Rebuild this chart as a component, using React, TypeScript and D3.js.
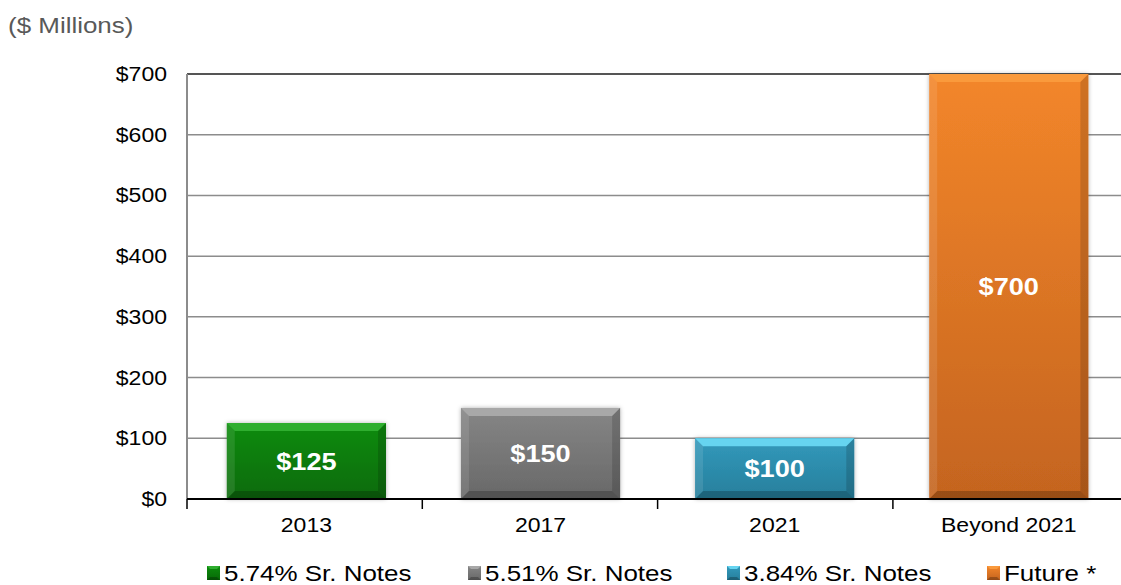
import * as React from 'react';
import * as d3 from 'd3';

const categories = ['2013', '2017', '2021', 'Beyond 2021'];
const values = [125, 150, 100, 700];
const seriesNames = ['5.74% Sr. Notes', '5.51% Sr. Notes', '3.84% Sr. Notes', 'Future *'];
const yTicks = [0, 100, 200, 300, 400, 500, 600, 700];

// top, middle, bottom shades for each bar
const palette = [
  ['#2fae2f', '#0d8c0d', '#076a07'],
  ['#a8a8a8', '#868686', '#686868'],
  ['#66d4f0', '#3299bb', '#277f9c'],
  ['#fa9a3c', '#f3862a', '#c4641f'],
];

const width = 1121;
const height = 585;
const sx = 1.18; // the original's text is a little wide
const font = 'Liberation Sans, Arial, sans-serif';

export default function App() {
  const root = React.useRef() as React.MutableRefObject<any>;

  React.useEffect(() => {
    document.body.style.margin = '0';

    const left = 187, top = 74, bottom = 499;
    const band = 235.3;

    const x = d3.scaleBand<string>()
      .domain(categories)
      .range([left, left + band * 4])
      .paddingInner(0.32)
      .paddingOuter(0.17);

    const y = d3.scaleLinear()
      .domain([0, 700])
      .range([bottom, top]);

    const svg = d3.select(root.current);
    svg.selectAll('*').remove();

    const defs = svg.append('defs');
    palette.forEach((p, i) => {
      const g = defs.append('linearGradient')
        .attr('id', 'g' + i)
        .attr('x1', 0).attr('y1', 0).attr('x2', 0).attr('y2', 1);
      g.append('stop').attr('offset', '0%').attr('stop-color', p[1]);
      g.append('stop').attr('offset', '100%').attr('stop-color', p[2]);
    });
    const f = defs.append('filter').attr('id', 'sh')
      .attr('x', '-10%').attr('y', '-10%').attr('width', '120%').attr('height', '120%');
    f.append('feDropShadow').attr('dx', 0).attr('dy', 0).attr('stdDeviation', 2)
      .attr('flood-color', '#000').attr('flood-opacity', 0.3);

    const label = (parent: any, tx: number, ty: number, txt: string, size: number, anchor: string) =>
      parent.append('text')
        .attr('transform', `translate(${tx},${ty}) scale(${sx},1)`)
        .attr('text-anchor', anchor)
        .attr('font-family', font)
        .attr('font-size', size)
        .text(txt);

    // title
    label(svg, 8, 33, '($ Millions)', 22, 'start').attr('fill', '#595959');

    // gridlines
    svg.append('g').selectAll('line')
      .data(yTicks.filter(d => d > 0))
      .enter().append('line')
      .attr('x1', left).attr('x2', width)
      .attr('y1', d => y(d)).attr('y2', d => y(d))
      .attr('stroke', d => d === 700 ? '#555' : '#8c8c8c')
      .attr('stroke-width', d => d === 700 ? 2 : 1.5);

    // left axis line
    svg.append('line')
      .attr('x1', left).attr('x2', left)
      .attr('y1', top).attr('y2', bottom)
      .attr('stroke', '#8c8c8c').attr('stroke-width', 2);

    // y tick labels
    const yl = svg.append('g');
    yTicks.forEach(d => {
      label(yl, 167, y(d) + 7, '$' + d, 19.5, 'end').attr('fill', '#000');
    });

    // bars with bevel
    const bev = 8;
    const bars = svg.append('g').selectAll('g')
      .data(values)
      .enter().append('g');

    bars.each(function (v, i) {
      const g = d3.select(this);
      const x0 = x(categories[i]) as number;
      const w = x.bandwidth();
      const y0 = y(v);
      const x1 = x0 + w, y1 = y(0);
      const pts = (a: number[][]) => a.map(p => p.join(',')).join(' ');
      g.append('rect')
        .attr('x', x0).attr('y', y0)
        .attr('width', w).attr('height', y1 - y0)
        .attr('fill', `url(#g${i})`)
        .attr('filter', 'url(#sh)');
      // top facet
      g.append('polygon')
        .attr('points', pts([[x0, y0], [x1, y0], [x1 - bev, y0 + bev], [x0 + bev, y0 + bev]]))
        .attr('fill', palette[i][0]);
      // left facet
      g.append('polygon')
        .attr('points', pts([[x0, y0], [x0 + bev, y0 + bev], [x0 + bev, y1 - bev], [x0, y1]]))
        .attr('fill', '#fff').attr('fill-opacity', 0.1);
      // right facet
      g.append('polygon')
        .attr('points', pts([[x1, y0], [x1, y1], [x1 - bev, y1 - bev], [x1 - bev, y0 + bev]]))
        .attr('fill', '#000').attr('fill-opacity', 0.15);
      // bottom facet
      g.append('polygon')
        .attr('points', pts([[x0, y1], [x1, y1], [x1 - bev, y1 - bev], [x0 + bev, y1 - bev]]))
        .attr('fill', '#000').attr('fill-opacity', 0.22);
      label(g, x0 + w / 2, (y0 + y1) / 2 + 8.5, '$' + v, 23, 'middle')
        .attr('font-weight', 'bold')
        .attr('fill', '#fff');
    });

    // x axis
    svg.append('line')
      .attr('x1', left).attr('x2', width)
      .attr('y1', bottom).attr('y2', bottom)
      .attr('stroke', '#000').attr('stroke-width', 2);
    svg.append('g').selectAll('line')
      .data(d3.range(4))
      .enter().append('line')
      .attr('x1', i => left + band * i).attr('x2', i => left + band * i)
      .attr('y1', bottom).attr('y2', bottom + 10)
      .attr('stroke', '#000').attr('stroke-width', 1.5);
    const xl = svg.append('g');
    categories.forEach(d => {
      label(xl, (x(d) as number) + x.bandwidth() / 2, 532, d, 19.5, 'middle').attr('fill', '#000');
    });

    // legend
    const legX = [207, 468, 727, 987];
    seriesNames.forEach((name, i) => {
      const g = svg.append('g').attr('transform', `translate(${legX[i]},566)`);
      g.append('rect')
        .attr('width', 13).attr('height', 14)
        .attr('fill', `url(#g${i})`);
      g.append('polygon')
        .attr('points', '0,0 13,0 10,3 3,3')
        .attr('fill', palette[i][0]);
      g.append('polygon')
        .attr('points', '0,14 13,14 10,11 3,11')
        .attr('fill', '#000').attr('fill-opacity', 0.25);
      label(g, 17, 15, name, 22, 'start').attr('fill', '#000');
    });
  }, []);

  return (
    <div>
      <svg width={width} height={height} ref={root} style={{ display: 'block' }}></svg>
    </div>
  );
}
